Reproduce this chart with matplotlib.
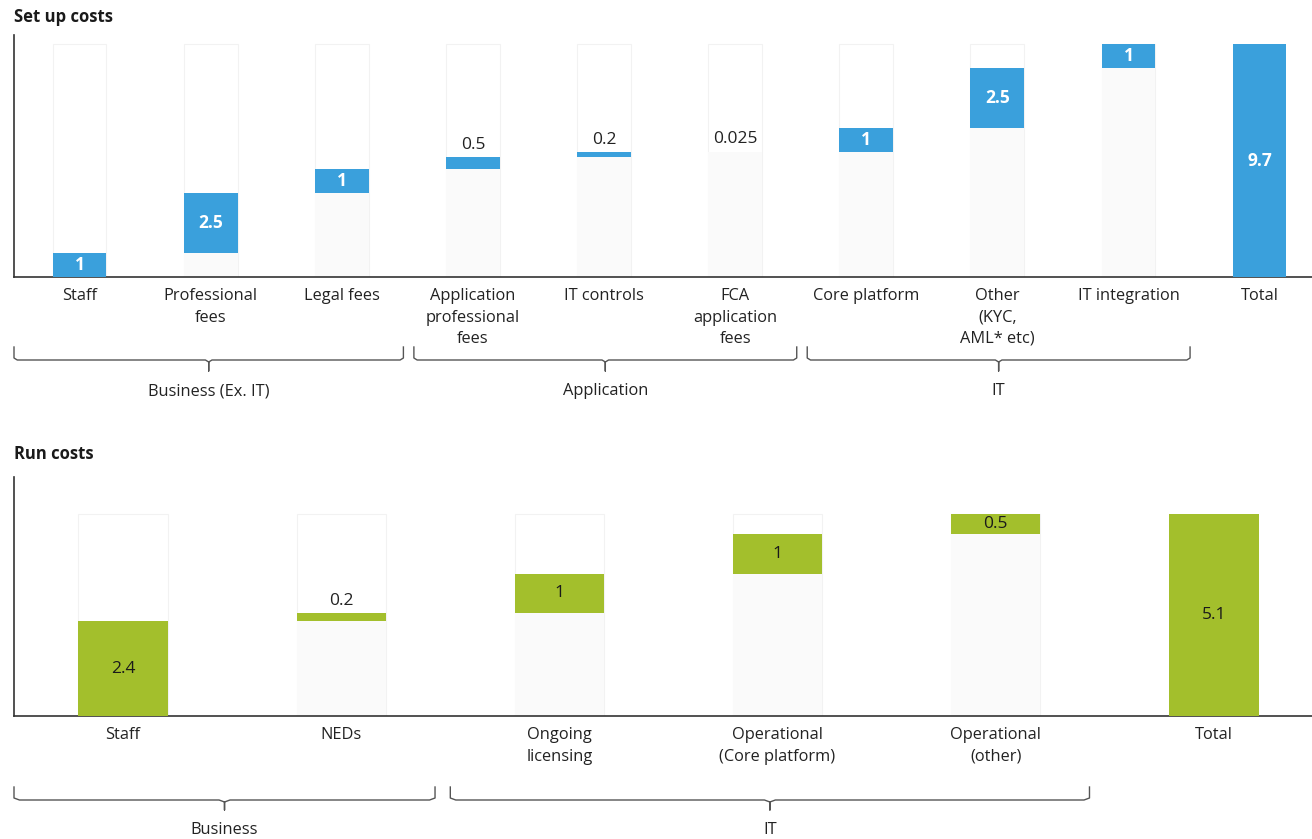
import matplotlib.pyplot as plt
from matplotlib.patches import Rectangle
from matplotlib.transforms import blended_transform_factory
import numpy as np

plt.rcParams["font.family"] = ["Open Sans", "DejaVu Sans"]

# Set up costs (waterfall)
setup_labels = ["Staff", "Professional\nfees", "Legal fees", "Application\nprofessional\nfees",
                "IT controls", "FCA\napplication\nfees", "Core platform", "Other\n(KYC,\nAML* etc)",
                "IT integration", "Total"]
setup_values = [1, 2.5, 1, 0.5, 0.2, 0.025, 1, 2.5, 1]
setup_value_text = ["1", "2.5", "1", "0.5", "0.2", "0.025", "1", "2.5", "1"]
setup_total = 9.7
setup_groups = [("Business (Ex. IT)", 0, 2), ("Application", 3, 5), ("IT", 6, 8)]

# Run costs (waterfall)
run_labels = ["Staff", "NEDs", "Ongoing\nlicensing", "Operational\n(Core platform)",
              "Operational\n(other)", "Total"]
run_values = [2.4, 0.2, 1, 1, 0.5]
run_value_text = ["2.4", "0.2", "1", "1", "0.5"]
run_total = 5.1
run_groups = [("Business", 0, 1), ("IT", 2, 4)]

BLUE = "#3aa0dc"
GREEN = "#a3bf2c"
W, H = 1312, 839

fig = plt.figure(figsize=(W / 100, H / 100), dpi=100)


def waterfall(ax, values, texts, total, labels, color, in_color, in_weight,
              ylim, xmax, min_inside):
    n = len(values)
    x = np.arange(n + 1)
    bottoms = np.concatenate([[0], np.cumsum(values)[:-1]])
    col_top = max(np.sum(values), total)
    width = 0.41
    for i in range(n):
        # faint column behind each step
        ax.add_patch(Rectangle((i - width / 2, 0), width, col_top, facecolor="white",
                               edgecolor="#f2f2f2", lw=0.8, zorder=1))
        ax.add_patch(Rectangle((i - width / 2, 0), width, bottoms[i], facecolor="#fafafa",
                               edgecolor="none", zorder=1.5))
    ax.bar(x[:n], values, bottom=bottoms, width=width, color=color, zorder=3)
    ax.bar(x[n], total, width=width, color=color, zorder=3)
    for i in range(n):
        if values[i] >= min_inside:
            ax.text(i, bottoms[i] + values[i] / 2, texts[i], ha="center", va="center",
                    color=in_color, fontsize=12.5, fontweight=in_weight, zorder=4)
        else:
            ax.annotate(texts[i], (i, bottoms[i] + values[i]), xytext=(0, 3),
                        textcoords="offset points", ha="center", va="bottom",
                        color="#222222", fontsize=12.5, zorder=4)
    ax.text(n, total / 2, f"{total:g}", ha="center", va="center", color=in_color,
            fontsize=12.5, fontweight=in_weight, zorder=4)

    ax.set_xlim(-0.5, xmax)
    ax.set_ylim(*ylim)
    ax.set_xticks(x, labels, fontsize=11.8, color="#222222", linespacing=1.45)
    ax.set_yticks([])
    ax.tick_params(axis="x", length=0, pad=8)
    for s in ("top", "right"):
        ax.spines[s].set_visible(False)
    for s in ("left", "bottom"):
        ax.spines[s].set_color("#333333")
        ax.spines[s].set_linewidth(1.2)


def brackets(ax, groups, y_top, y_mid, y_tip, y_text, pad_l=0.46, pad_r=0.46):
    trans = blended_transform_factory(ax.transData, fig.transFigure)
    fy = lambda p: 1 - p / H
    d = 0.025
    for name, a, b in groups:
        x0 = a - pad_l if a > 0 else ax.get_xlim()[0]
        x1 = b + pad_r
        xc = (x0 + x1) / 2
        xs = [x0, x0, x0 + d, xc - d, xc, xc, xc, xc + d, x1 - d, x1, x1]
        ys = [y_top, y_mid - 2, y_mid, y_mid, y_mid + 2, y_tip, y_mid + 2, y_mid, y_mid,
              y_mid - 2, y_top]
        ax.plot(xs, [fy(v) for v in ys], transform=trans, color="#555555", lw=1,
                clip_on=False)
        ax.text(xc, fy(y_text), name, transform=trans, ha="center", va="center",
                fontsize=11.8, color="#222222")


ax1 = fig.add_axes([14 / W, 1 - 277 / H, 1 - 14 / W, (277 - 35) / H])
waterfall(ax1, setup_values, setup_value_text, setup_total, setup_labels, BLUE,
          "white", "bold", (0, 10.08), 9.4, 0.75)
brackets(ax1, setup_groups, 347, 360, 371, 391, 0.45, 0.47)
fig.text(14 / W, 1 - 17 / H, "Set up costs", fontsize=12, fontweight="bold",
         va="center", color="#1a1a1a")

ax2 = fig.add_axes([14 / W, 1 - 716 / H, 1 - 14 / W, (716 - 477) / H])
waterfall(ax2, run_values, run_value_text, run_total, run_labels, GREEN,
          "#1a1a1a", "normal", (0, 6.04), 5.45, 0.45)
brackets(ax2, run_groups, 787, 800, 810, 830, 0.5, 0.43)
fig.text(14 / W, 1 - 454 / H, "Run costs", fontsize=12, fontweight="bold",
         va="center", color="#1a1a1a")

fig.savefig("out.png", dpi=100)
